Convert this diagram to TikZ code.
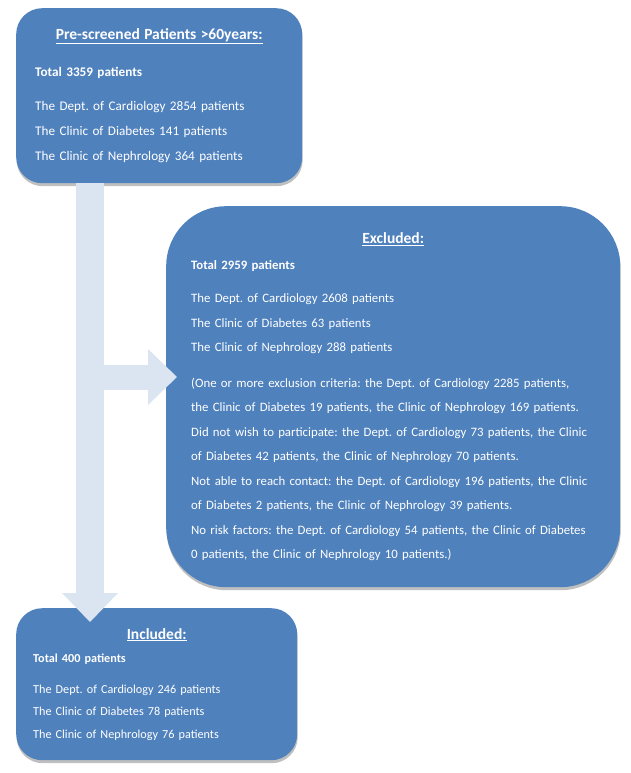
\documentclass[tikz,border=0pt]{standalone}
\usepackage{fontspec}
\setmainfont{Carlito}
\usepackage{xcolor}
\definecolor{boxblue}{HTML}{4F81BD}
\definecolor{arrowblue}{HTML}{DBE5F1}
\usepackage{tikz}
\usetikzlibrary{arrows.meta,positioning,shadows,calc}
\frenchspacing
\newcommand{\bhead}[1]{\makebox[\linewidth]{\fontsize{15.5}{25}\selectfont\bfseries\underline{#1}}}

\begin{document}
\begin{tikzpicture}[
  x=1pt, y=-1pt,
  panel/.style={fill=boxblue, text=white, align=left, anchor=north west,
                font=\fontsize{13.2}{25}\selectfont,
                drop shadow={shadow xshift=0.5pt, shadow yshift=-3pt, opacity=0.25, fill=black}},
  bigarr/.style={draw=arrowblue, line width=28pt,
                 -{Triangle[length=29pt, width=56pt, line width=0pt]}}
]
\useasboundingbox (0,0) rectangle (630,773);
\node[panel, rounded corners=26pt, minimum width=286pt, minimum height=175pt,
      inner xsep=19pt, text width=248pt] (pre) at (16,8) {%
  \bhead{Pre-screened Patients >60years:}\\[12pt]
  \textbf{Total 3359 patients}\\[9pt]
  The Dept. of Cardiology 2854 patients\\
  The Clinic of Diabetes 141 patients\\
  The Clinic of Nephrology 364 patients};
\node[panel, rounded corners=60pt, minimum width=454pt, minimum height=381pt,
      inner xsep=25pt, text width=404pt, font=\fontsize{12.8}{24.5}\selectfont] (exc) at (166,206) {%
  \bhead{Excluded:}\\[1pt]
  \textbf{Total 2959 patients}\\[9pt]
  The Dept. of Cardiology 2608 patients\\
  The Clinic of Diabetes 63 patients\\
  The Clinic of Nephrology 288 patients\\[11pt]
  (One or more exclusion criteria: the Dept. of Cardiology 2285 patients,\\
  the Clinic of Diabetes 19 patients, the Clinic of Nephrology 169 patients.\\
  Did not wish to participate: the Dept. of Cardiology 73 patients, the Clinic\\
  of Diabetes 42 patients, the Clinic of Nephrology 70 patients.\\
  Not able to reach contact: the Dept. of Cardiology 196 patients, the Clinic\\
  of Diabetes 2 patients, the Clinic of Nephrology 39 patients.\\
  No risk factors: the Dept. of Cardiology 54 patients, the Clinic of Diabetes\\
  0 patients, the Clinic of Nephrology 10 patients.)};
\node[panel, rounded corners=26pt, minimum width=281pt, minimum height=152pt,
      inner xsep=17pt, text width=247pt, font=\fontsize{12.2}{22.5}\selectfont] (inc) at (16,608) {%
  \bhead{Included:}\\[1pt]
  \textbf{Total 400 patients}\\[8pt]
  The Dept. of Cardiology 246 patients\\
  The Clinic of Diabetes 78 patients\\
  The Clinic of Nephrology 76 patients};
\coordinate (split) at (90,377);
\draw[bigarr, shorten >=-14pt] (pre.south -| split) -- (inc.north -| split);
\draw[bigarr, line width=25pt, shorten >=-11pt] (split) -- (split -| exc.west);
\end{tikzpicture}
\end{document}
